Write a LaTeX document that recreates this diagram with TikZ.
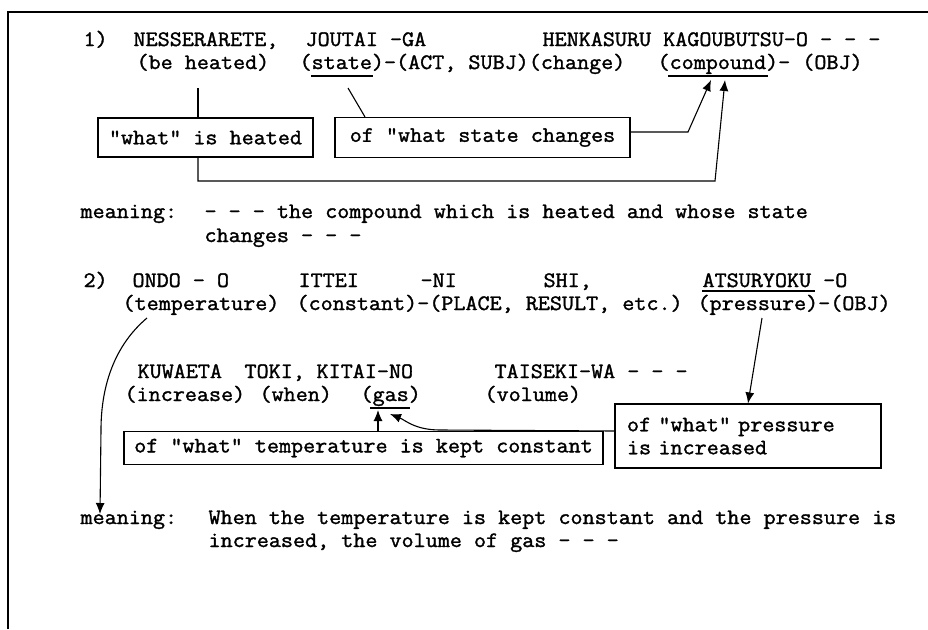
\documentclass[tikz,border=0pt]{standalone}
\usepackage{fontspec}
\setmonofont{Latin Modern Mono}[FakeBold=1.5,FakeStretch=1.065]
\usetikzlibrary{arrows.meta}

\begin{document}
\begin{tikzpicture}[x=1pt,y=1pt,line width=1.1pt,>={Latex[length=11pt,width=9pt]}]
\tikzstyle{every node}+=[inner sep=0pt,anchor=base west,font=\fontsize{22}{23}\selectfont\ttfamily]
\tikzstyle{box}=[draw,anchor=center,inner sep=6pt]
\useasboundingbox (0,0) rectangle (928,-629);
\draw [black] (8,-629) -- (8,-12) -- (928,-12);
% first sentence
\node (num1) at (83,-46) {1)};
\node (nes) at (133,-46) {NESSERARETE,};
\node (jou) at (305,-46) {JOUTAI -GA};
\node (hen) at (542,-46) {HENKASURU KAGOUBUTSU-O - - -};
\node (heated) at (136,-69) {(be heated)};
\node (stategl) at (299,-69) {(state)-(ACT, SUBJ)(change)};
\node (compgl) at (657,-69) {(compound)- (OBJ)};
\coordinate (ust1) at (311,-76);
\coordinate (ust2) at (373,-76);
\coordinate (uco1) at (668,-76);
\coordinate (uco2) at (768,-76);
\draw [black] (ust1) -- (ust2);
\draw [black] (uco1) -- (uco2);
\node [box,minimum width=215,minimum height=39] (what) at (205.5,-137.5) {"what" is heated};
\node [box,minimum width=295,minimum height=40] (whst) at (482.5,-137.5) {of "what state changes};
\coordinate (h1) at (198,-88);
\coordinate (s1) at (348,-88);
\coordinate (s2) at (365,-88);
\coordinate (k1) at (688,-132);
\coordinate (tipA) at (711,-80);
\coordinate (b1) at (198,-181);
\coordinate (b2) at (715,-181);
\coordinate (tipB) at (725,-80);
\draw [black] (h1) -- (h1 |- what.north);
\draw [black] (s1) -- (s2 |- whst.north);
\draw [black,->] (k1 -| whst.east) -- (k1) -- (tipA);
\draw [black,->] (b1 |- what.south) -- (b1) -- (b2) -- (tipB);
\node (mean1) at (80,-218) {meaning:};
\node (mean1a) at (204,-218) {- - - the compound which is heated and whose state};
\node (mean1b) at (204,-242) {changes - - -};
% second sentence
\node (num2) at (83,-287) {2)};
\node (ondo) at (132,-287) {ONDO - O};
\node (ittei) at (298,-287) {ITTEI};
\node (ni) at (420,-287) {-NI};
\node (shi) at (543,-287) {SHI,};
\node (atsu) at (702,-287) {ATSURYOKU -O};
\coordinate (uat1) at (702,-291);
\coordinate (uat2) at (815,-291);
\draw [black] (uat1) -- (uat2);
\node (temp) at (122,-310) {(temperature)};
\node (const) at (296,-310) {(constant)-(PLACE, RESULT, etc.)};
\node (press) at (697,-310) {(pressure)-(OBJ)};
\node (kuw) at (137,-378) {KUWAETA};
\node (toki) at (244,-378) {TOKI,};
\node (kitai) at (316,-378) {KITAI-NO};
\node (tais) at (494,-378) {TAISEKI-WA - - -};
\node (incr) at (124,-401) {(increase)};
\node (when) at (259,-401) {(when)};
\node (gas) at (360,-401) {(gas)};
\node (vol) at (484,-401) {(volume)};
\coordinate (uga1) at (370,-408);
\coordinate (uga2) at (410,-408);
\draw [black] (uga1) -- (uga2);
\node [box,minimum width=479,minimum height=33] (tbox) at (363.5,-448) {of "what" temperature is kept constant};
\node [box,align=left,text width=242,inner xsep=12pt,minimum height=64] (pbox) at (748,-436) {of "what" pressure\\is increased};
\coordinate (tipC) at (378,-410);
\coordinate (tipD) at (390,-414);
\coordinate (p1) at (615,-431);
\coordinate (p2) at (762,-318);
\coordinate (t1) at (147,-318);
\coordinate (tipE) at (100,-514);
\draw [black,->] (tipC |- tbox.north) -- (tipC);
\draw [black,->] (p1) -- (440,-430) .. controls (415,-430) and (405,-420) .. (tipD);
\draw [black,->] (p2) -- (pbox.north);
\draw [black,->] (t1) .. controls (115,-345) and (101,-385) .. (101,-430) -- (tipE);
\node (mean2) at (80,-524) {meaning:};
\node (mean2a) at (208,-524) {When the temperature is kept constant and the pressure is};
\node (mean2b) at (208,-547) {increased, the volume of gas - - -};
\end{tikzpicture}
\end{document}
